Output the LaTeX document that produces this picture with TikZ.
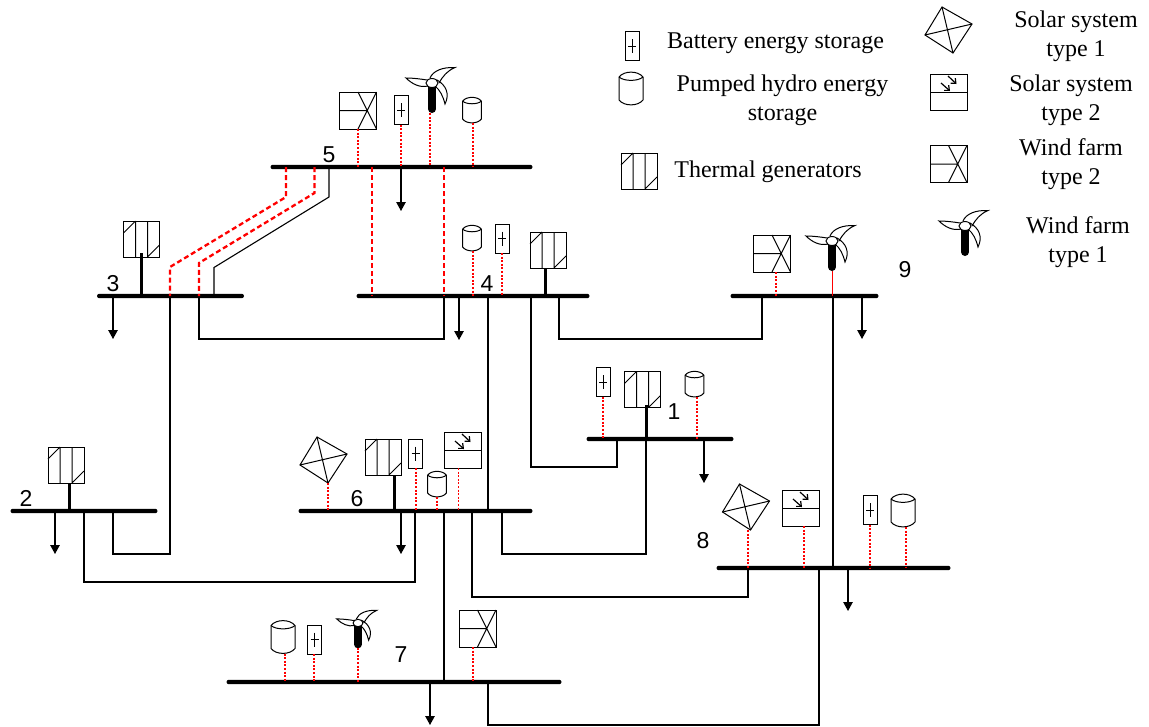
\documentclass[tikz,border=0pt]{standalone}
\usepackage{fontspec}
\setmainfont{Liberation Serif}
\newfontfamily\numfont{Liberation Sans}
\usetikzlibrary{arrows.meta}
\tikzset{
  icon/.style={line width=1pt,draw=black},
  busbar/.style={fill=black,inner sep=0pt,minimum height=4.4pt,rounded corners=2.2pt,draw=none},
  tie/.style={line width=1.1pt,draw=black},
  redtie/.style={line width=2.3pt,draw=red,dash pattern=on 5pt off 3pt},
  feedline/.style={line width=1.3pt,draw=red,dash pattern=on 2pt off 1.6pt},
  genlink/.style={line width=3pt,draw=black},
  loadline/.style={line width=1.2pt,draw=black,-{Triangle[width=9.5pt,length=9pt]}},
  legend/.style={font=\fontsize{24}{29}\selectfont,align=center,inner sep=0pt,text=black},
  busnum/.style={font=\numfont\fontsize{23}{25}\selectfont,inner sep=0pt,text=black},
  thermalgen/.pic={
    \draw[icon] (-18,-18) rectangle (18,18);
    \draw[icon] (-6,-18) -- (-6,18) (6,-18) -- (6,18) (-18,-6) -- (-6,-18) (6,18) -- (18,6);
    \coordinate (-s) at (0,18);
  },
  batterycell/.pic={
    \draw[icon] (-7,-14.5) rectangle (7,14.5);
    \draw[icon] (0,-7) -- (0,7) (-4,0) -- (4,0);
    \coordinate (-s) at (0,14.5);
  },
  hydrocyl/.pic={
    \draw[icon] (-12,-12) .. controls (-7,-18.5) and (7,-18.5) .. (12,-12) -- (12,11) .. controls (7,17.5) and (-7,17.5) .. (-12,11) -- cycle;
    \draw[icon] (-12,-12) .. controls (-7,-7.5) and (7,-7.5) .. (12,-12);
    \coordinate (-s) at (0,16);
  },
  solarone/.pic={
    \draw[icon] (-6.5,-22.5) -- (23.5,-5.5) -- (4.5,23.5) -- (-23.5,5.5) -- cycle;
    \draw[icon] (-6.5,-22.5) -- (4.5,23.5) (23.5,-5.5) -- (-23.5,5.5);
    \coordinate (-s) at (4.5,23.5);
  },
  solartwo/.pic={
    \draw[icon] (-18.5,-18) rectangle (18.5,18);
    \draw[icon] (-18.5,0) -- (18.5,0);
    \draw[line width=1.2pt,-{Straight Barb[length=4pt,width=7pt]}] (-0.5,-16) -- (8,-8);
    \draw[line width=1.2pt,-{Straight Barb[length=4pt,width=7pt]}] (-7.5,-9) -- (1.5,-1);
    \coordinate (-s) at (0,18);
  },
  windtwo/.pic={
    \draw[icon] (-18.5,-18.5) rectangle (18.5,18.5);
    \draw[icon] (-18.5,0) -- (9.5,0) (0,-18.5) -- (18.5,18.5) (18.5,-18.5) -- (0,18.5);
    \coordinate (-s) at (0,18.5);
  },
  windone/.pic={
    \draw[line width=1pt] (-2,-5) .. controls (1,-12) and (10,-16) .. (23,-15.5) .. controls (15,-12) and (11,-7) .. (7,0);
    \draw[line width=1pt] (-5,-3) .. controls (-11,-4) and (-19,-5) .. (-26,-5) .. controls (-20,1) and (-12,5) .. (-4,3);
    \draw[line width=1pt] (5,-3) .. controls (14,2) and (18,11) .. (13,21) .. controls (11,13) and (8,7) .. (3,3);
    \draw[line width=8pt,line cap=round] (0,4) -- (0,26);
    \draw[line width=1pt,fill=white] (0,0) ellipse (6 and 4.5);
    \coordinate (-s) at (0,30);
  }
}
\newcommand{\feed}[3]{\draw[feedline] ([xshift=#3pt]#1) coordinate (ftmp) -- (ftmp |- #2);}
\begin{document}
\begin{tikzpicture}[x=1pt,y=-1pt]
\useasboundingbox (0,0) rectangle (1149,726);

% buses
\node[busbar,minimum width=147pt] (b3) at (170.5,296) {};
\node[busbar,minimum width=262pt] (b5) at (401.5,167) {};
\node[busbar,minimum width=233pt] (b4) at (473,296) {};
\node[busbar,minimum width=148pt] (b9) at (804.5,296) {};
\node[busbar,minimum width=147pt] (b1) at (660,439) {};
\node[busbar,minimum width=147pt] (b2) at (84,511) {};
\node[busbar,minimum width=234pt] (b6) at (415.5,511) {};
\node[busbar,minimum width=234pt] (b8) at (833.5,568) {};
\node[busbar,minimum width=335pt] (b7) at (394,682) {};

% bus numbers
\node[busnum] (n5) at (329,155) {5};
\node[busnum] (n3) at (113,284) {3};
\node[busnum] (n4) at (487,284) {4};
\node[busnum] (n9) at (905,270) {9};
\node[busnum] (n1) at (674,412) {1};
\node[busnum] (n2) at (26,498) {2};
\node[busnum] (n6) at (357,499) {6};
\node[busnum] (n8) at (703,541) {8};
\node[busnum] (n7) at (401,655) {7};

% legend text
\node[legend] (l1) at (775.5,43) {Battery energy storage};
\node[legend] (l2) at (782.5,100.5) {Pumped hydro energy\\storage};
\node[legend] (l3) at (768,172) {Thermal generators};
\node[legend] (l4) at (1076,36) {Solar system\\type 1};
\node[legend] (l5) at (1071,100.5) {Solar system\\type 2};
\node[legend] (l6) at (1071,164) {Wind farm\\type 2};
\node[legend] (l7) at (1078,242) {Wind farm\\type 1};

% legend icons
\pic (kb) at (632,46) {batterycell};
\pic (kc) at (631,89) {hydrocyl};
\pic (kt) at (639,171) {thermalgen};
\pic (ks) at (948.5,29.5) {solarone};
\pic (kp) at (948.5,92) {solartwo};
\pic (kw) at (948.5,164) {windtwo};
\pic (kv) at (965,226) {windone};

% icons at buses
\pic (t3) at (141.5,239) {thermalgen};
\pic (t4) at (548,250) {thermalgen};
\pic (t1) at (642.5,389.5) {thermalgen};
\pic (t2) at (66,465) {thermalgen};
\pic (t6) at (383,457) {thermalgen};

\pic (a5) at (401,110) {batterycell};
\pic (a4) at (502,238.5) {batterycell};
\pic (a1) at (603,382) {batterycell};
\pic (a6) at (415.5,453.5) {batterycell};
\pic (a8) at (870,510) {batterycell};
\pic (a7) at (314.5,639.5) {batterycell};

\pic[scale=.78] (c5) at (472,110.5) {hydrocyl};
\pic[scale=.78] (c4) at (472,238.5) {hydrocyl};
\pic[scale=.78] (c1) at (694.5,384.5) {hydrocyl};
\pic[scale=.78] (c6) at (437,484.5) {hydrocyl};
\pic (c8) at (903,511) {hydrocyl};
\pic (c7) at (283,637.5) {hydrocyl};

\pic (s6) at (323.5,459.5) {solarone};
\pic (s8) at (746,506.5) {solarone};
\pic (p6) at (462.5,450) {solartwo};
\pic (p8) at (800.5,508) {solartwo};

\pic (w5) at (358,110.5) {windtwo};
\pic (w9) at (772,253.5) {windtwo};
\pic (w7) at (477.5,628.5) {windtwo};

\pic (v5) at (432,83) {windone};
\pic (v9) at (832,241) {windone};
\pic[scale=.82] (v7) at (358,623) {windone};

% black transmission lines
\draw[tie] (329,0 |- b5) -- (329,197) coordinate (j53a) -- (214,267.5) coordinate (j53b) -- (j53b |- b3);
\draw[tie] (170,0 |- b3) -- (170,554) -- (113,554) -- (113,0 |- b2);
\draw[tie] (199,0 |- b3) -- (199,339) -- (444,339) -- (444,0 |- b4);
\draw[tie] (488,0 |- b4) -- (488,0 |- b6);
\draw[tie] (531,0 |- b4) -- (531,467) -- (617,467) -- (617,0 |- b1);
\draw[tie] (559,0 |- b4) -- (559,339) -- (762,339) -- (762,0 |- b9);
\draw[tie] (84,0 |- b2) -- (84,582) -- (415,582) -- (415,0 |- b6);
\draw[tie] (444,0 |- b6) -- (444,0 |- b7);
\draw[tie] (472,0 |- b6) -- (472,597) -- (748,597) -- (748,0 |- b8);
\draw[tie] (502,0 |- b6) -- (502,554) -- (646,554) -- (646,0 |- b1);
\draw[tie] (833,0 |- b9) -- (833,0 |- b8);
\draw[tie] (819,0 |- b8) -- (819,725) -- (488,725) -- (488,0 |- b7);

% red lines
\draw[redtie] (286,0 |- b5) -- (286,197) -- (170,267) -- (170,0 |- b3);
\draw[redtie] (314.5,0 |- b5) -- (314.5,193) -- (199,263) -- (199,0 |- b3);
\draw[redtie] (372,0 |- b5) -- (372,0 |- b4);
\draw[redtie] (444,0 |- b5) -- (444,0 |- b4);

% generator links
\draw[genlink] (141.5,253) -- (141.5,0 |- b3);
\draw[genlink] (545,268) -- (545,0 |- b4);
\draw[genlink] (646,405) -- (646,0 |- b1);
\draw[genlink] (69,483) -- (69,0 |- b2);
\draw[genlink] (394,475) -- (394,0 |- b6);

% feeders
\feed{a5-s}{b5}{0}
\feed{a4-s}{b4}{0}
\feed{a1-s}{b1}{0}
\feed{a6-s}{b6}{0.5}
\feed{a8-s}{b8}{0}
\feed{a7-s}{b7}{-0.5}
\feed{c5-s}{b5}{1}
\feed{c4-s}{b4}{1}
\feed{c1-s}{b1}{2.5}
\feed{c6-s}{b6}{0}
\feed{c8-s}{b8}{3}
\feed{c7-s}{b7}{2}
\feed{s6-s}{b6}{0}
\feed{s8-s}{b8}{-2.5}
\feed{p6-s}{b6}{-4}
\feed{p8-s}{b8}{3.5}
\feed{w5-s}{b5}{0}
\feed{w9-s}{b9}{4}
\feed{w7-s}{b7}{-4.5}
\feed{v5-s}{b5}{-2}
\feed{v7-s}{b7}{0}
\draw[red,line width=0.8pt] (v9-s) -- (v9-s |- b9);

% loads
\draw[loadline] (113,0 |- b3) -- (113,339);
\draw[loadline] (401,0 |- b5) -- (401,211);
\draw[loadline] (459,0 |- b4) -- (459,340);
\draw[loadline] (862,0 |- b9) -- (862,339);
\draw[loadline] (704,0 |- b1) -- (704,483);
\draw[loadline] (55,0 |- b2) -- (55,554);
\draw[loadline] (401,0 |- b6) -- (401,554);
\draw[loadline] (848,0 |- b8) -- (848,611);
\draw[loadline] (430,0 |- b7) -- (430,725);
\end{tikzpicture}
\end{document}
